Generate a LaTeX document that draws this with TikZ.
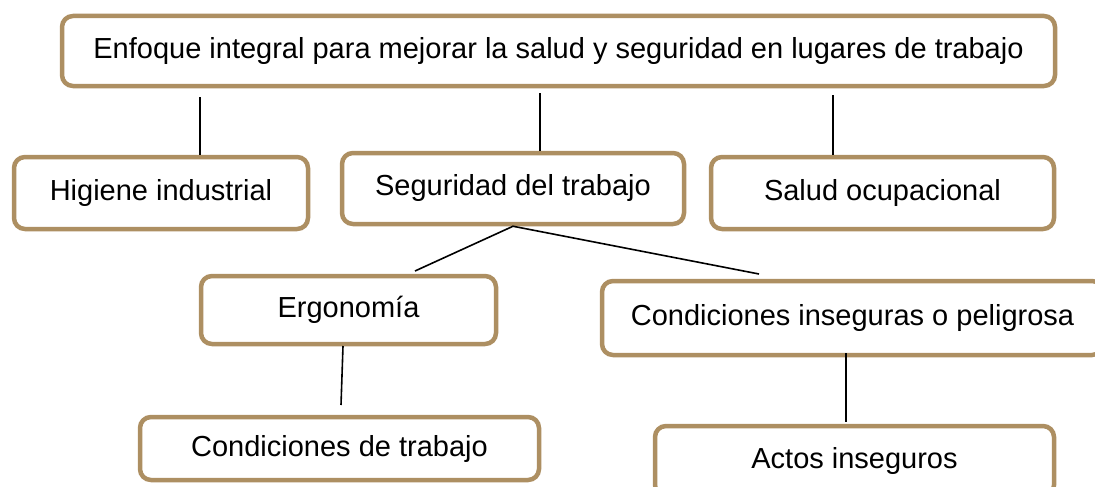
\documentclass[tikz,border=0pt]{standalone}
\usepackage{fontspec}
\setmainfont{Liberation Sans}
\definecolor{tan}{RGB}{173,143,98}
\tikzset{
  box/.style={draw=tan, line width=4.5pt, rounded corners=11pt, fill=white,
    inner sep=0pt, font=\fontsize{29}{34}\selectfont},
  link/.style={line width=1.6pt}
}
\begin{document}
\begin{tikzpicture}[x=1pt,y=-1pt]

    % page frame, same size as the source image
    \useasboundingbox (0,0) rectangle (1095,487);

    % boxes, placed at their centres
    \node[box, minimum width=993pt, minimum height=70pt] (enfoque) at (558.5,51)
      {Enfoque integral para mejorar la salud y seguridad en lugares de trabajo};
    \node[box, minimum width=294pt, minimum height=72pt] (higiene) at (161,193) {Higiene industrial};
    \node[box, minimum width=342pt, minimum height=71pt] (seguridad) at (513,188.5) {Seguridad del trabajo};
    \node[box, minimum width=343pt, minimum height=72pt] (salud) at (882.5,193) {Salud ocupacional};
    \node[box, minimum width=295pt, minimum height=68pt] (ergo) at (348.5,310) {Ergonom\'ia};
    \node[box, minimum width=501pt, minimum height=74pt] (inseguras) at (852.5,318) {Condiciones inseguras o peligrosa};
    \node[box, minimum width=399pt, minimum height=63pt] (condtrab) at (339.5,448.5) {Condiciones de trabajo};
    \node[box, minimum width=399pt, minimum height=70pt] (actos) at (854.5,461) {Actos inseguros};

    % free ends of the connectors
    \coordinate (h1) at (200,97);
    \coordinate (s1) at (540,93);
    \coordinate (o1) at (833,95);
    \coordinate (e1) at (415,271);
    \coordinate (i1) at (759,274);
    \coordinate (e2) at (343,346);
    \coordinate (c1) at (341,405);
    \coordinate (i2) at (846,353);
    \coordinate (a1) at (846,422);

    % connectors
    \draw[link] (h1) -- (h1 |- higiene.north);
    \draw[link] (s1) -- (s1 |- seguridad.north);
    \draw[link] (o1) -- (o1 |- salud.north);
    \draw[link] (e1) -- (seguridad.south) -- (i1);
    \draw[link] (e2) -- (c1);
    \draw[link] (i2) -- (a1);

\end{tikzpicture}
\end{document}
